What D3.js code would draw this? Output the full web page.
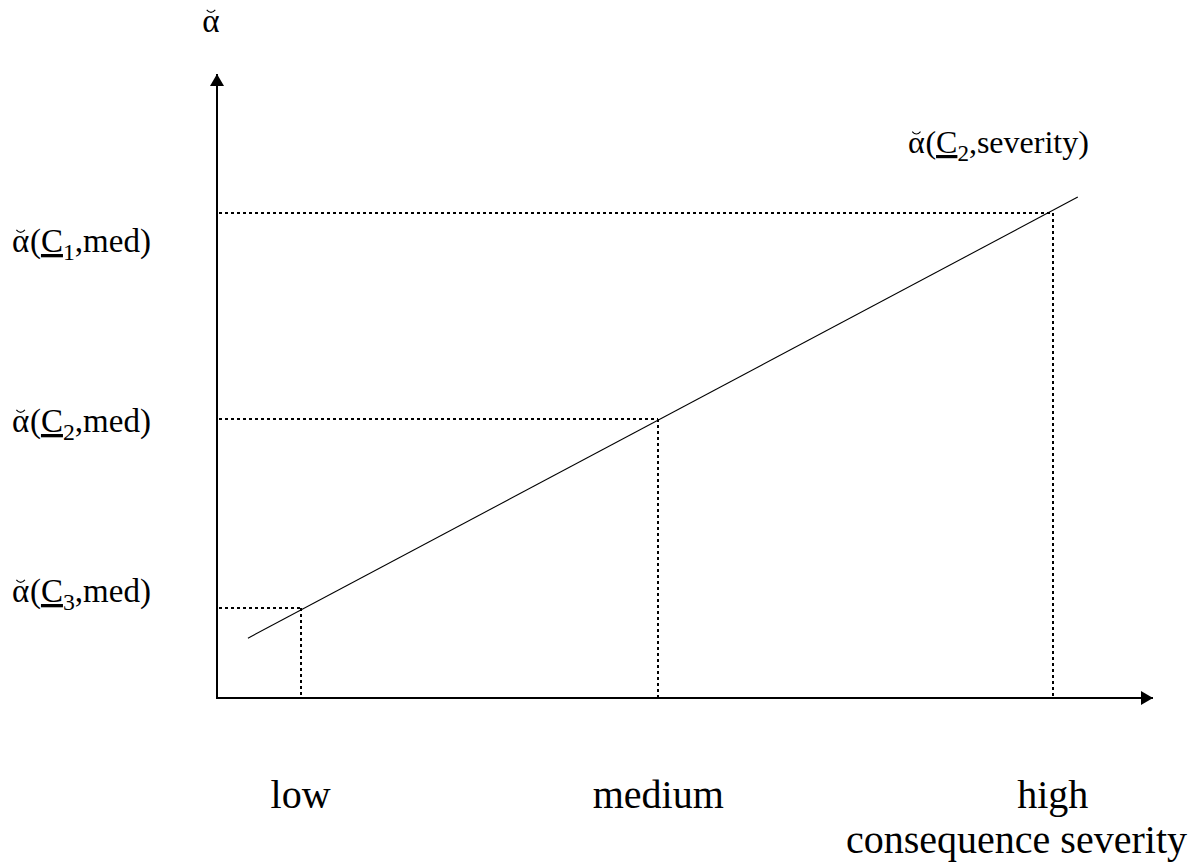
<!DOCTYPE html>
<html>
<head>
<meta charset="utf-8">
<script src="https://cdn.jsdelivr.net/npm/d3@7"></script>
<style>
  html, body { margin: 0; padding: 0; background: #fff; }
  svg { display: block; }
  svg text, svg tspan { font-family: "Liberation Serif", "Times New Roman", Times, "DejaVu Serif", serif; fill: #000; }
</style>
</head>
<body>
<svg id="chart" width="1192" height="863"></svg>
<script>
// Consequence severity levels on the horizontal axis
const severityLabels = ["low", "medium", "high"];
const severityValues = [1, 5.28, 10];

// Composite alpha read at each severity level (classes C3, C2, C1)
const classIndex = [3, 2, 1];
const alphaValues = [1.05, 3.26, 5.67];

// End points of the alpha(C2, severity) line
const lineSeverity = [0.37, 10.3];
const lineAlpha = [0.70, 5.86];

const svg = d3.select("#chart");

const x = d3.scaleLinear().domain([0, 11.2]).range([217, 1153]);
const y = d3.scaleLinear().domain([0, 7.3]).range([698, 74]);

// arrow heads
const defs = svg.append("defs");
defs.append("marker")
  .attr("id", "arrow")
  .attr("viewBox", "0 0 12 14")
  .attr("refX", 12).attr("refY", 7)
  .attr("markerUnits", "userSpaceOnUse")
  .attr("markerWidth", 12).attr("markerHeight", 14)
  .attr("orient", "auto")
  .append("path")
  .attr("d", "M0,0 L12,7 L0,14 Z")
  .attr("fill", "#000");

// dotted guides from the line to both axes
const pts = severityValues.map((s, i) => ({ s, a: alphaValues[i], c: classIndex[i] }));
const px = v => Math.round(v);

const guides = svg.append("g")
  .attr("stroke", "#000")
  .attr("stroke-width", 2)
  .attr("stroke-dasharray", "3,3")
  .attr("shape-rendering", "crispEdges")
  .attr("fill", "none");

guides.selectAll("line.h").data(pts).join("line")
  .attr("class", "h")
  .attr("x1", x(0) + 2).attr("x2", d => px(x(d.s)))
  .attr("y1", d => px(y(d.a))).attr("y2", d => px(y(d.a)));

guides.selectAll("line.v").data(pts).join("line")
  .attr("class", "v")
  .attr("x1", d => px(x(d.s))).attr("x2", d => px(x(d.s)))
  .attr("y1", d => px(y(d.a))).attr("y2", y(0));

// the severity line
svg.append("path")
  .datum(lineSeverity.map((s, i) => [s, lineAlpha[i]]))
  .attr("fill", "none")
  .attr("stroke", "#000")
  .attr("stroke-width", 1.1)
  .attr("d", d3.line().x(d => x(d[0])).y(d => y(d[1])));

// axes with arrows
svg.append("line")
  .attr("x1", x(0)).attr("y1", y(0))
  .attr("x2", x(0)).attr("y2", y.range()[1])
  .attr("stroke", "#000").attr("stroke-width", 2)
  .attr("marker-end", "url(#arrow)");

svg.append("line")
  .attr("x1", x(0) - 1).attr("y1", y(0))
  .attr("x2", x.range()[1]).attr("y2", y(0))
  .attr("stroke", "#000").attr("stroke-width", 2)
  .attr("marker-end", "url(#arrow)");

// alpha symbol with a small breve arc drawn above it
function alphaGlyph(g, xPos, yPos, size, anchor) {
  const a = g.append("text")
    .attr("x", xPos).attr("y", yPos)
    .attr("text-anchor", anchor || "start")
    .style("font-size", size + "px")
    .text("\u03B1");
  const w = a.node().getComputedTextLength();
  const left = anchor === "middle" ? xPos - w / 2 : xPos;
  const cx = left + w / 2;
  const top = yPos - size * 0.6;
  const hw = size * 0.13;
  g.append("path")
    .attr("d", `M${cx - hw},${top - size * 0.07} Q${cx},${top + size * 0.08} ${cx + hw},${top - size * 0.07}`)
    .attr("fill", "none")
    .attr("stroke", "#000")
    .attr("stroke-width", size * 0.035);
  return { left, w };
}

// alpha(C_k, ...) labels
function alphaLabel(g, xPos, yPos, k, rest, size) {
  const a = alphaGlyph(g, xPos, yPos, size);
  const t = g.append("text")
    .attr("x", a.left + a.w + size * 0.02).attr("y", yPos)
    .style("font-size", size + "px");
  t.append("tspan").text("(");
  t.append("tspan").text("C").style("text-decoration", "underline");
  t.append("tspan").text(k)
    .attr("dy", size * 0.25)
    .style("font-size", (size * 0.72) + "px");
  t.append("tspan").text("," + rest + ")")
    .attr("dy", -size * 0.25);
  return t;
}

// labels on the vertical axis
const baseOffset = { 1: 39, 2: 13, 3: -6 };
pts.forEach(d => {
  alphaLabel(svg, 12, px(y(d.a)) + baseOffset[d.c], d.c, "med", 33);
});

// axis title
alphaGlyph(svg, 211, 32, 33, "middle");

// line label
alphaLabel(svg, 908, 153, 2, "severity", 32);

// severity level labels
svg.append("g").selectAll("text")
  .data(severityLabels)
  .join("text")
  .attr("x", (d, i) => x(severityValues[i]))
  .attr("y", 808)
  .attr("text-anchor", "middle")
  .style("font-size", "40px")
  .text(d => d);

svg.append("text")
  .attr("x", 1187).attr("y", 853)
  .attr("text-anchor", "end")
  .style("font-size", "40px")
  .text("consequence severity");
</script>
</body>
</html>
